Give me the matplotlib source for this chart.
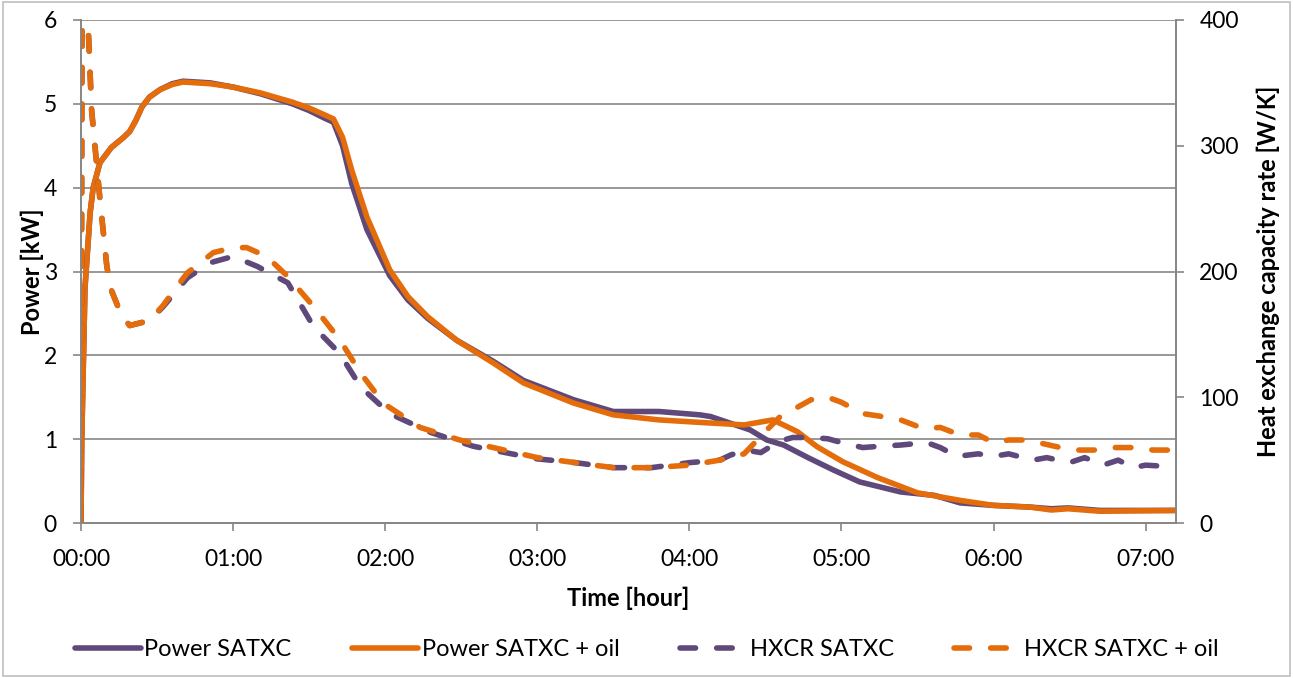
import matplotlib.pyplot as plt
from matplotlib.patches import Rectangle

# power curves, time in hours
t_p_satxc = [0, 0.005, 0.026, 0.06, 0.08, 0.125, 0.2, 0.28, 0.32, 0.36, 0.4, 0.45, 0.52, 0.6,
             0.67, 0.85, 1.0, 1.18, 1.39, 1.5, 1.6, 1.66, 1.72, 1.78, 1.88, 2.03, 2.15, 2.28,
             2.47, 2.71, 2.91, 3.24, 3.5, 3.8, 4.07, 4.14, 4.4, 4.51, 4.62, 4.78, 4.95, 5.12,
             5.39, 5.61, 5.78, 6.0, 6.24, 6.38, 6.49, 6.7, 7.2]
p_satxc = [0, 1.0, 2.8, 3.7, 4.0, 4.3, 4.48, 4.6, 4.67, 4.8, 4.96, 5.08, 5.17, 5.24,
           5.27, 5.25, 5.2, 5.12, 5.0, 4.92, 4.83, 4.78, 4.5, 4.05, 3.5, 2.95, 2.66, 2.44,
           2.18, 1.93, 1.7, 1.47, 1.33, 1.33, 1.29, 1.27, 1.11, 0.99, 0.93, 0.78, 0.63, 0.49,
           0.37, 0.33, 0.24, 0.21, 0.19, 0.17, 0.18, 0.15, 0.15]

t_p_oil = [0, 0.005, 0.026, 0.06, 0.08, 0.125, 0.2, 0.28, 0.32, 0.36, 0.4, 0.45, 0.52, 0.6,
           0.67, 0.85, 1.0, 1.18, 1.39, 1.5, 1.6, 1.66, 1.72, 1.78, 1.88, 2.03, 2.15, 2.28,
           2.47, 2.71, 2.91, 3.24, 3.5, 3.8, 4.07, 4.36, 4.55, 4.71, 4.84, 5.01, 5.24, 5.5,
           5.78, 6.0, 6.24, 6.38, 6.49, 6.7, 7.2]
p_oil = [0, 1.0, 2.8, 3.7, 4.0, 4.3, 4.48, 4.6, 4.67, 4.8, 4.96, 5.08, 5.17, 5.23,
         5.26, 5.24, 5.2, 5.13, 5.02, 4.95, 4.87, 4.82, 4.6, 4.21, 3.65, 3.02, 2.7, 2.46,
         2.18, 1.91, 1.67, 1.43, 1.29, 1.23, 1.2, 1.17, 1.23, 1.09, 0.91, 0.73, 0.54, 0.36,
         0.27, 0.21, 0.19, 0.155, 0.17, 0.14, 0.15]

# heat exchange capacity rate curves
t_hx_satxc = [0, 0.008, 0.03, 0.046, 0.07, 0.1, 0.125, 0.17, 0.2, 0.26, 0.32, 0.45, 0.54,
              0.63, 0.7, 0.85, 1.0, 1.16, 1.36, 1.53, 1.7, 1.84, 2.03, 2.3, 2.58, 3.0, 3.25,
              3.5, 3.75, 4.0, 4.2, 4.27, 4.37, 4.47, 4.55, 4.62, 4.68, 4.8, 4.91, 5.0, 5.14,
              5.25, 5.39, 5.56, 5.65, 5.76, 5.9, 6.0, 6.1, 6.26, 6.35, 6.5, 6.6, 6.72, 6.82,
              6.92, 7.0, 7.14, 7.2]
hx_satxc = [0, 480, 440, 398, 328, 289, 257, 204, 185, 167, 157, 161, 172,
            185, 195, 207, 212, 204, 191, 156, 135, 108, 87, 72, 61, 51, 48,
            44, 44, 48, 50, 54, 58, 56, 62, 66, 68, 68, 67, 64, 60,
            61, 62, 64, 60, 53, 55, 53, 55, 50, 52, 48, 52, 46, 50,
            44, 46, 45, 48]

t_hx_oil = [0, 0.008, 0.03, 0.046, 0.07, 0.1, 0.125, 0.17, 0.2, 0.26, 0.32, 0.45, 0.54, 0.63,
            0.7, 0.87, 1.0, 1.09, 1.22, 1.36, 1.53, 1.7, 1.84, 1.99, 2.23, 2.49, 2.71, 3.0,
            3.25, 3.5, 3.75, 4.0, 4.2, 4.36, 4.51, 4.6, 4.71, 4.8, 4.91, 5.0, 5.14, 5.25,
            5.39, 5.54, 5.65, 5.78, 5.9, 6.0, 6.1, 6.22, 6.33, 6.44, 6.55, 6.66, 6.8, 6.92,
            7.05, 7.2]
hx_oil = [0, 480, 440, 398, 328, 289, 257, 204, 185, 167, 157, 161, 173, 188,
          199, 215, 219, 219, 212, 196, 172, 146, 119, 95, 76, 66, 60, 52,
          48, 44, 44, 46, 50, 55, 74, 85, 92, 98, 100, 96, 87, 85,
          82, 75, 76, 70, 70, 64, 66, 66, 63, 60, 58, 58, 60, 60,
          58, 58]

hour_ticks = [0, 1, 2, 3, 4, 5, 6, 7]
hour_labels = ['00:00', '01:00', '02:00', '03:00', '04:00', '05:00', '06:00', '07:00']

purple = '#5f497a'
orange = '#e46c0a'
gray = '#868686'

plt.rcParams['font.family'] = ['Lato', 'DejaVu Sans']

fig = plt.figure(figsize=(12.93, 6.78), dpi=100)
ax = fig.add_axes([81 / 1293, 1 - 523 / 678, (1176 - 81) / 1293, (523 - 20) / 678])
ax2 = ax.twinx()

lw = 4.0
dash = (0, (2.8, 3.8))
ax.plot(t_p_satxc, p_satxc, color=purple, lw=lw, solid_joinstyle='round',
        solid_capstyle='round', label='Power SATXC')
ax.plot(t_p_oil, p_oil, color=orange, lw=lw, solid_joinstyle='round',
        solid_capstyle='round', label='Power SATXC + oil')
ax2.plot(t_hx_satxc, hx_satxc, color=purple, lw=lw, ls=dash,
         dash_capstyle='round', dash_joinstyle='round', label='HXCR SATXC')
ax2.plot(t_hx_oil, hx_oil, color=orange, lw=lw, ls=dash,
         dash_capstyle='round', dash_joinstyle='round', label='HXCR SATXC + oil')

ax.set_xlim(0, 7.2)
ax.set_ylim(0, 6)
ax2.set_ylim(0, 400)
ax.set_xticks(hour_ticks)
ax.set_xticklabels(hour_labels)
ax.set_yticks(range(0, 7))
ax2.set_yticks(range(0, 401, 100))

ax.yaxis.grid(True, color=gray, lw=1.2)
ax.set_axisbelow(True)

for a in (ax, ax2):
    for s in a.spines.values():
        s.set_color(gray)
        s.set_linewidth(1.2)
    a.spines['top'].set_visible(False)
    a.tick_params(colors=gray, labelcolor='black', labelsize=16.5, length=5.8, width=1.2)
ax.tick_params(axis='y', pad=11.5)
ax2.tick_params(axis='y', pad=11)
ax.tick_params(axis='x', pad=13)

ax.set_xlabel('Time [hour]', fontsize=17, fontweight='bold', labelpad=12)
ax.set_ylabel('Power [kW]', fontsize=17, fontweight='bold', labelpad=0)
ax2.set_ylabel('Heat exchange capacity rate [W/K]', fontsize=17, fontweight='bold', labelpad=13)

h1, l1 = ax.get_legend_handles_labels()
h2, l2 = ax2.get_legend_handles_labels()
fig.legend(h1 + h2, l1 + l2, loc='center', bbox_to_anchor=(0.5, 1 - 650 / 678), ncol=4,
           frameon=False, fontsize=17, handlelength=2.8, handletextpad=0.15, columnspacing=2.56)

# light frame round the whole chart
fig.patches.append(Rectangle((0.002, 0.003), 0.996, 0.994, transform=fig.transFigure,
                             fill=False, edgecolor='#bfbfbf', lw=1.2))

fig.savefig('out.png', dpi=100)
